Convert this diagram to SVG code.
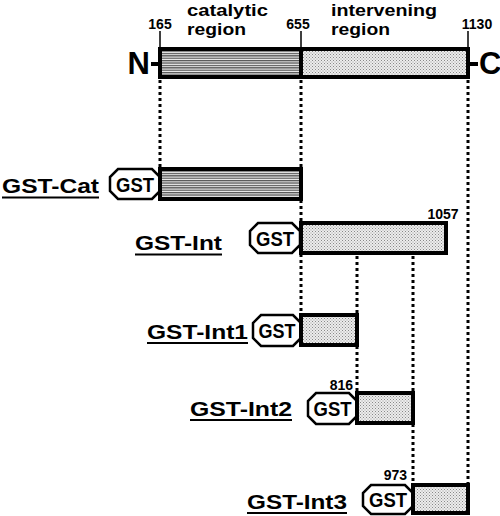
<svg xmlns="http://www.w3.org/2000/svg" width="500" height="516" viewBox="0 0 500 516">
<defs>
<pattern id="hatch" width="4" height="2.4" patternUnits="userSpaceOnUse">
<rect width="4" height="2.4" fill="#f4f4f4"/>
<rect width="4" height="1.3" fill="#555"/>
</pattern>
<pattern id="stip" width="3" height="3" patternUnits="userSpaceOnUse">
<rect width="3" height="3" fill="#ececec"/>
<rect x="0" y="0" width="1" height="1" fill="#888"/>
<rect x="1.5" y="1.5" width="1" height="1" fill="#999"/>
</pattern>
</defs>
<style>
text{font-family:"Liberation Sans",Arial,sans-serif;font-weight:bold;fill:#000}
.bar{stroke:#000;stroke-width:4}
.cat{fill:url(#hatch)}
.int{fill:url(#stip)}
.oct{fill:#fff;stroke:#000;stroke-width:2.5}
.gst{font-size:21px;text-anchor:middle}
.lbl{font-size:21px}
.num{font-size:14px}
.reg{font-size:17px}
.ul{stroke:#000;stroke-width:2}
.dot{stroke:#000;stroke-width:3;stroke-dasharray:3 3;fill:none}
.tick{stroke:#000;stroke-width:1.5}
</style>

<g id="connectors">
<line class="dot" x1="160" y1="80" x2="160" y2="168"/>
<line class="dot" x1="301" y1="80" x2="301" y2="314"/>
<line class="dot" x1="468" y1="80" x2="468" y2="484"/>
<line class="dot" x1="357" y1="256" x2="357" y2="392"/>
<line class="dot" x1="413" y1="256" x2="413" y2="484"/>
</g>

<g id="protein">
<line class="tick" x1="160" y1="31" x2="160" y2="49"/>
<line class="tick" x1="301" y1="31" x2="301" y2="49"/>
<line class="tick" x1="468" y1="31" x2="468" y2="49"/>
<text class="num" x="160" y="29" text-anchor="middle">165</text>
<text class="num" x="298" y="29" text-anchor="middle">655</text>
<text class="num" x="477" y="29" text-anchor="middle">1130</text>
<text class="reg"><tspan x="187" y="16" textLength="81" lengthAdjust="spacingAndGlyphs">catalytic</tspan><tspan x="187" y="35" textLength="59" lengthAdjust="spacingAndGlyphs">region</tspan></text>
<text class="reg"><tspan x="331" y="16" textLength="106" lengthAdjust="spacingAndGlyphs">intervening</tspan><tspan x="331" y="35" textLength="59" lengthAdjust="spacingAndGlyphs">region</tspan></text>
<rect class="bar cat" x="160" y="49" width="141" height="28"/>
<rect class="bar int" x="301" y="49" width="167" height="28"/>
<line x1="151" y1="64" x2="160" y2="64" stroke="#000" stroke-width="4"/>
<line x1="468" y1="64" x2="478" y2="64" stroke="#000" stroke-width="4"/>
<text x="150" y="74" font-size="31" text-anchor="end">N</text>
<text x="479" y="74" font-size="31">C</text>
</g>

<g id="gst-cat">
<text class="lbl" x="2" y="193" textLength="97" lengthAdjust="spacingAndGlyphs">GST-Cat</text>
<line class="ul" x1="2" y1="197.5" x2="99" y2="197.5"/>
<path class="oct" d="M118,169 L152,169 L160,177 L160,191 L152,199 L118,199 L110,191 L110,177 Z"/>
<text class="gst" x="135" y="192" textLength="38" lengthAdjust="spacingAndGlyphs">GST</text>
<rect class="bar cat" x="160" y="169" width="141" height="30"/>
</g>

<g id="gst-int">
<text class="lbl" x="135" y="250" textLength="87" lengthAdjust="spacingAndGlyphs">GST-Int</text>
<line class="ul" x1="135" y1="254.5" x2="222" y2="254.5"/>
<path class="oct" d="M258,223 L292,223 L300,231 L300,245 L292,253 L258,253 L250,245 L250,231 Z"/>
<text class="gst" x="275" y="246" textLength="38" lengthAdjust="spacingAndGlyphs">GST</text>
<rect class="bar int" x="301" y="223" width="145" height="30"/>
<text class="num" x="443" y="219" text-anchor="middle">1057</text>
</g>

<g id="gst-int1">
<text class="lbl" x="147" y="339" textLength="101" lengthAdjust="spacingAndGlyphs">GST-Int1</text>
<line class="ul" x1="147" y1="343" x2="248" y2="343"/>
<path class="oct" d="M261,315 L293,315 L301,323 L301,338 L293,346 L261,346 L253,338 L253,323 Z"/>
<text class="gst" x="277" y="338" textLength="37" lengthAdjust="spacingAndGlyphs">GST</text>
<rect class="bar int" x="301" y="315" width="56" height="30"/>
</g>

<g id="gst-int2">
<text class="lbl" x="190" y="416" textLength="102" lengthAdjust="spacingAndGlyphs">GST-Int2</text>
<line class="ul" x1="190" y1="420" x2="292" y2="420"/>
<path class="oct" d="M316,393 L349,393 L357,401 L357,416 L349,424 L316,424 L308,416 L308,401 Z"/>
<text class="gst" x="332.5" y="416" textLength="38" lengthAdjust="spacingAndGlyphs">GST</text>
<rect class="bar int" x="357" y="393" width="56" height="30"/>
<text class="num" x="353" y="390" text-anchor="end">816</text>
</g>

<g id="gst-int3">
<text class="lbl" x="247" y="509" textLength="100" lengthAdjust="spacingAndGlyphs">GST-Int3</text>
<line class="ul" x1="247" y1="513" x2="347" y2="513"/>
<path class="oct" d="M371,485 L405,485 L413,493 L413,506 L405,514 L371,514 L363,506 L363,493 Z"/>
<text class="gst" x="388" y="507" textLength="38" lengthAdjust="spacingAndGlyphs">GST</text>
<rect class="bar int" x="413" y="485" width="55" height="28"/>
<text class="num" x="407" y="480" text-anchor="end">973</text>
</g>
</svg>
